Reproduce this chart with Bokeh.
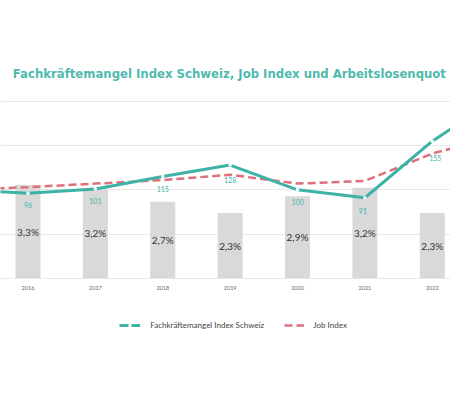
from bokeh.plotting import figure
from bokeh.models import (Range1d, Grid, FixedTicker, ColumnDataSource, Label,
                          Legend, LegendItem)
from bokeh.core.properties import value
from bokeh.embed import file_html
from bokeh.resources import INLINE

# ---------------- data ----------------
title_text = "Fachkräftemangel Index Schweiz, Job Index und Arbeitslosenquot"
years = [2016, 2017, 2018, 2019, 2020, 2021, 2022]
year_labels = ["2016", "2017", "2018", "2019", "2020", "2021", "2022"]
arbeitslosenquote = [3.3, 3.2, 2.7, 2.3, 2.9, 3.2, 2.3]
alq_labels = ["3,3%", "3,2%", "2,7%", "2,3%", "2,9%", "3,2%", "2,3%"]
line_years = [2015, 2016, 2017, 2018, 2019, 2020, 2021, 2022, 2023]
fk_index = [100, 96, 101, 115, 128, 100, 91, 155, 205]
job_index = [100, 103, 107, 111, 117, 107, 110, 141, 161]
fk_labels = ["96", "101", "115", "128", "100", "91", "155"]
fk_label_values = [96, 101, 115, 128, 100, 91, 155]
grid_ticks = [0, 50, 100, 150, 200]

# ---------------- style ----------------
TEAL = "#3db3a6"
TITLE_TEAL = "#50b9ae"
RED = "#df6f79"
BAR = "#d9d9d9"
label_dy = [12, 12, 12, 15, 12, 13, 17]
label_dx = [0, 0, 0, 0, 0, -2, 3]

W, H = 450, 395
p = figure(width=W, height=H,
           x_range=Range1d(2015.5919, 2022.2705),
           y_range=Range1d(-132.69, 314.14),
           output_backend="svg", toolbar_location=None,
           x_axis_location=None, y_axis_location=None,
           min_border=0, outline_line_color=None,
           background_fill_color="white", border_fill_color="white")
p.extra_y_ranges = {"pct": Range1d(-4.145, 9.813)}
p.xgrid.visible = False
p.ygrid.visible = False

grid = Grid(dimension=1, ticker=FixedTicker(ticks=grid_ticks),
            grid_line_color="#e9e9e9", grid_line_width=1)
p.add_layout(grid, "center")

# bars (unemployment rate, secondary range)
bar_src = ColumnDataSource(dict(x=years, top=arbeitslosenquote,
                                mid=[v / 2 for v in arbeitslosenquote],
                                lab=alq_labels, ylab=year_labels,
                                zero=[0] * len(years)))
p.vbar(x="x", top="top", bottom=0, width=0.371, source=bar_src,
       y_range_name="pct", fill_color=BAR, line_color=None)
p.text(x="x", y="mid", text="lab", source=bar_src, y_range_name="pct",
       text_align="center", text_baseline="middle",
       text_font=value("Lato"), text_font_size="10px", text_color="#333333")

# year labels
p.text(x="x", y="zero", text="ylab", source=bar_src, y_offset=10,
       text_align="center", text_baseline="middle",
       text_font=value("Lato"), text_font_size="5.5px", text_color="#666666")

# lines
p.line(line_years, job_index, line_color=RED, line_width=2.5, line_dash="8 4")
p.line(line_years, fk_index, line_color=TEAL, line_width=3, line_join="round")
p.scatter(line_years, fk_index, size=3.5, fill_color="white", line_color=None)

lab_src = ColumnDataSource(dict(x=years, y=fk_label_values, t=fk_labels,
                                dx=label_dx, dy=label_dy))
p.text(x="x", y="y", text="t", source=lab_src, x_offset="dx", y_offset="dy",
       text_align="center", text_baseline="middle",
       text_font=value("Lato"), text_font_size="7px", text_color=TEAL)

# title
p.add_layout(Label(x=12.3, y=H - 73, x_units="screen", y_units="screen",
                   text=title_text, text_font="DejaVu Sans",
                   text_font_style="bold", text_font_size="11.7px",
                   text_color=TITLE_TEAL, text_baseline="middle"))

# legend (sample renderers, kept outside the visible range, carry the legend styles)
r_fk = p.line([1990, 1991], [0, 0], line_color=TEAL, line_width=3, line_dash="9 3")
r_job = p.line([1990, 1991], [0, 0], line_color=RED, line_width=2.5, line_dash="8 4")

common = dict(orientation="horizontal", glyph_height=10, label_height=10,
              padding=0, margin=0, border_line_color=None,
              background_fill_alpha=0, label_text_font_size="8px",
              label_text_color="#444444", label_text_font="Lato")
leg1 = Legend(items=[LegendItem(label="Fachkräftemangel Index Schweiz", renderers=[r_fk])],
              location=(119.3, H - 324.7 - 5), glyph_width=21, label_standoff=10,
              **common)
leg2 = Legend(items=[LegendItem(label="Job Index", renderers=[r_job])],
              location=(284.3, H - 324.7 - 5), glyph_width=20, label_standoff=9,
              **common)
p.add_layout(leg1)
p.add_layout(leg2)

open("out.html", "w").write(file_html(p, INLINE))
